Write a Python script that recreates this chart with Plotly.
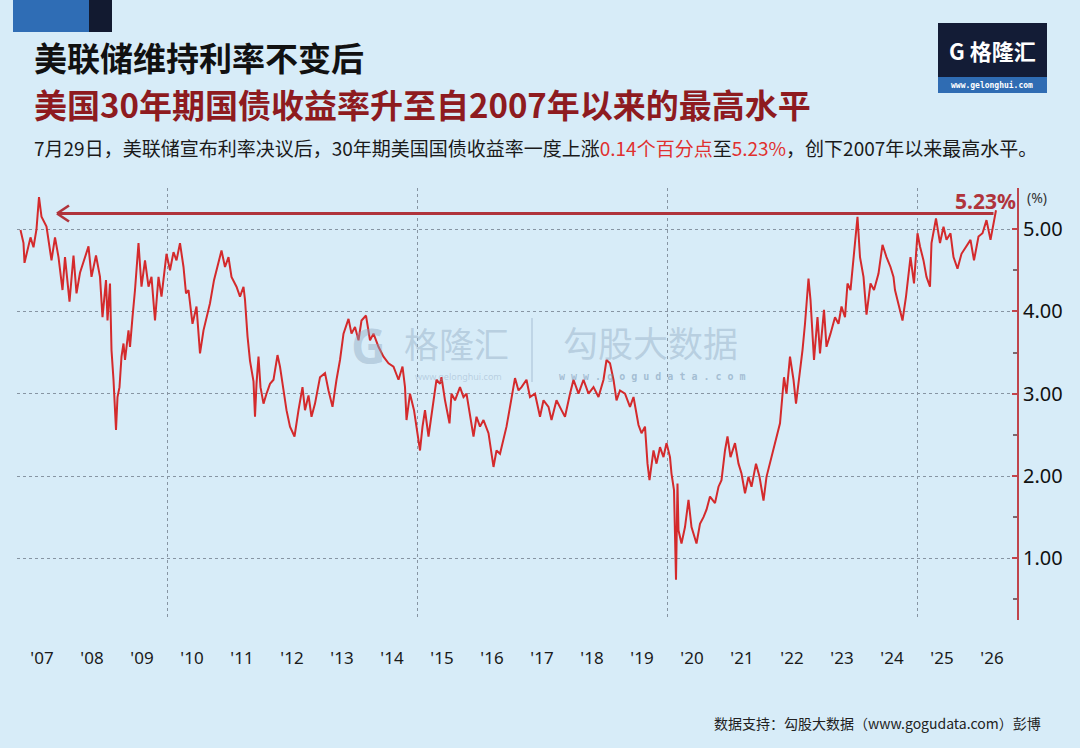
import plotly.graph_objects as go

# ---- data ----
years = [
    2007.07, 2007.13, 2007.15, 2007.23, 2007.27, 2007.33, 2007.39, 2007.44, 2007.49, 2007.59,
    2007.69, 2007.76, 2007.83, 2007.91, 2007.96, 2008.05, 2008.13, 2008.19, 2008.26, 2008.43,
    2008.49, 2008.58, 2008.66, 2008.71, 2008.78, 2008.81, 2008.86, 2008.89, 2008.93, 2008.98,
    2009.01, 2009.05, 2009.09, 2009.13, 2009.16, 2009.23, 2009.26, 2009.31, 2009.36, 2009.43,
    2009.49, 2009.56, 2009.63, 2009.69, 2009.76, 2009.83, 2009.89, 2009.99, 2010.06, 2010.13,
    2010.19, 2010.26, 2010.33, 2010.38, 2010.43, 2010.51, 2010.59, 2010.66, 2010.73, 2010.86,
    2010.94, 2011.09, 2011.16, 2011.23, 2011.29, 2011.39, 2011.46, 2011.53, 2011.56, 2011.61,
    2011.66, 2011.73, 2011.76, 2011.79, 2011.83, 2011.87, 2011.93, 2011.99, 2012.06, 2012.13,
    2012.21, 2012.26, 2012.33, 2012.39, 2012.46, 2012.55, 2012.63, 2012.71, 2012.76, 2012.83,
    2012.89, 2012.96, 2013.06, 2013.16, 2013.23, 2013.31, 2013.39, 2013.46, 2013.53, 2013.63,
    2013.69, 2013.76, 2013.83, 2013.89, 2013.98, 2014.06, 2014.13, 2014.23, 2014.33, 2014.43,
    2014.53, 2014.63, 2014.71, 2014.76, 2014.79, 2014.86, 2014.94, 2015.06, 2015.11, 2015.16,
    2015.23, 2015.31, 2015.39, 2015.46, 2015.49, 2015.56, 2015.65, 2015.69, 2015.76, 2015.86,
    2015.93, 2015.99, 2016.09, 2016.13, 2016.19, 2016.26, 2016.33, 2016.43, 2016.53, 2016.59,
    2016.66, 2016.73, 2016.79, 2016.86, 2016.93, 2016.96, 2017.03, 2017.09, 2017.19, 2017.26,
    2017.36, 2017.46, 2017.53, 2017.63, 2017.69, 2017.79, 2017.89, 2017.96, 2018.06, 2018.13,
    2018.23, 2018.33, 2018.43, 2018.53, 2018.63, 2018.73, 2018.79, 2018.86, 2018.93, 2018.99,
    2019.06, 2019.16, 2019.26, 2019.33, 2019.43, 2019.49, 2019.56, 2019.61, 2019.65, 2019.73,
    2019.79, 2019.86, 2019.93, 2019.99, 2020.06, 2020.09, 2020.14, 2020.18, 2020.21, 2020.23,
    2020.29, 2020.36, 2020.43, 2020.49, 2020.59, 2020.66, 2020.73, 2020.79, 2020.86, 2020.96,
    2021.03, 2021.09, 2021.16, 2021.21, 2021.27, 2021.36, 2021.43, 2021.49, 2021.56, 2021.63,
    2021.69, 2021.78, 2021.85, 2021.93, 2021.99, 2022.09, 2022.19, 2022.26, 2022.34, 2022.39,
    2022.46, 2022.53, 2022.58, 2022.65, 2022.71, 2022.76, 2022.83, 2022.87, 2022.94, 2023.01,
    2023.06, 2023.14, 2023.19, 2023.27, 2023.36, 2023.43, 2023.49, 2023.56, 2023.61, 2023.67,
    2023.73, 2023.81, 2023.86, 2023.93, 2023.99, 2024.07, 2024.14, 2024.23, 2024.31, 2024.39,
    2024.47, 2024.53, 2024.56, 2024.63, 2024.71, 2024.78, 2024.83, 2024.87, 2024.94, 2025.01,
    2025.06, 2025.13, 2025.19, 2025.26, 2025.29, 2025.38, 2025.46, 2025.53, 2025.59, 2025.67,
    2025.73, 2025.81, 2025.89, 2025.98, 2026.07, 2026.14, 2026.23, 2026.31, 2026.39, 2026.47,
    2026.53, 2026.58,
]
yields = [
    4.99, 4.83, 4.59, 4.78, 4.90, 4.78, 5.00, 5.39, 5.15, 5.03,
    4.62, 4.90, 4.66, 4.26, 4.66, 4.12, 4.68, 4.22, 4.47, 4.79,
    4.42, 4.68, 4.42, 3.93, 4.38, 3.89, 4.34, 3.53, 3.17, 2.56,
    2.96, 3.08, 3.45, 3.61, 3.41, 3.77, 3.57, 3.93, 4.26, 4.83,
    4.30, 4.62, 4.30, 4.42, 3.89, 4.42, 4.18, 4.70, 4.50, 4.72,
    4.62, 4.83, 4.54, 4.22, 4.26, 3.85, 4.06, 3.49, 3.77, 4.10,
    4.38, 4.74, 4.54, 4.66, 4.42, 4.30, 4.18, 4.30, 4.14, 3.70,
    3.40, 3.15, 2.72, 3.12, 3.45, 3.08, 2.88, 3.00, 3.12, 3.17,
    3.47, 3.33, 3.04, 2.80, 2.60, 2.48, 2.80, 3.08, 2.80, 2.98,
    2.72, 2.88, 3.20, 3.25, 3.04, 2.84, 3.17, 3.41, 3.73, 3.91,
    3.73, 3.81, 3.65, 3.89, 3.95, 3.65, 3.73, 3.57, 3.45, 3.37,
    3.33, 3.17, 3.33, 3.08, 2.68, 3.00, 2.80, 2.31, 2.60, 2.80,
    2.48, 2.80, 3.17, 3.12, 3.20, 2.92, 2.64, 3.00, 2.92, 3.08,
    2.96, 3.00, 2.60, 2.48, 2.72, 2.60, 2.68, 2.52, 2.11, 2.31,
    2.27, 2.44, 2.60, 2.84, 3.12, 3.19, 3.04, 3.08, 3.17, 2.96,
    3.00, 2.72, 2.92, 2.84, 2.68, 2.92, 2.80, 2.72, 3.00, 3.17,
    3.00, 3.17, 3.00, 3.08, 2.96, 3.17, 3.41, 3.37, 3.17, 2.92,
    3.04, 3.00, 2.84, 2.96, 2.62, 2.52, 2.60, 2.15, 1.95, 2.31,
    2.15, 2.35, 2.23, 2.40, 2.23, 2.03, 1.83, 0.74, 1.91, 1.34,
    1.18, 1.38, 1.71, 1.38, 1.18, 1.42, 1.50, 1.59, 1.75, 1.67,
    1.87, 1.95, 2.31, 2.48, 2.23, 2.40, 2.15, 2.03, 1.79, 1.99,
    1.87, 2.15, 1.99, 1.70, 1.99, 2.23, 2.48, 2.64, 3.20, 3.00,
    3.45, 3.17, 2.88, 3.20, 3.53, 3.85, 4.40, 4.14, 3.41, 3.93,
    3.49, 4.02, 3.57, 3.73, 3.93, 3.85, 4.06, 3.93, 4.34, 4.26,
    4.66, 5.15, 4.66, 4.42, 3.96, 4.34, 4.26, 4.46, 4.81, 4.66,
    4.54, 4.42, 4.26, 4.10, 3.89, 4.18, 4.50, 4.66, 4.34, 4.95,
    4.79, 4.62, 4.42, 4.30, 4.83, 5.13, 4.83, 5.03, 4.87, 4.95,
    4.66, 4.52, 4.70, 4.79, 4.87, 4.62, 4.91, 4.95, 5.11, 4.87,
    5.07, 5.23,
]
year_tick_pos = [2007.5 + i for i in range(20)]
year_tick_text = ["'%02d" % (7 + i) for i in range(20)]
grid_years = [2010, 2015, 2020, 2025]
y_ticks = [1, 2, 3, 4, 5]
latest_label = "5.23%"
arrow_start_year = 2007.8

# ---- layout geometry ----
W, H = 1080, 748
L, R, T, B = 17, 63, 188, 128
PW, PH = W - L - R, H - T - B
BG = "#d7ecf8"
ARROW_C = "#b0343c"
WM = "rgba(140,165,190,0.42)"


def px(x):
    return (x - L) / PW


def py(y):
    return (H - B - y) / PH


fig = go.Figure()
fig.add_trace(go.Scatter(
    x=years, y=yields, mode="lines",
    line=dict(color="#d42a2c", width=2.0),
    hoverinfo="skip", showlegend=False,
))

fig.update_xaxes(
    range=[2007.0, 2027.0],
    tickmode="array", tickvals=year_tick_pos, ticktext=year_tick_text,
    showgrid=False, zeroline=False, showline=False,
    ticks="outside", ticklen=23, tickcolor="rgba(0,0,0,0)",
    tickfont=dict(family="Noto Sans", size=17, color="#1a1a1a"),
    minor=dict(tickvals=grid_years, showgrid=True, gridcolor="#8795a3",
               griddash="dot", gridwidth=1, ticks=""),
)
fig.update_yaxes(
    side="right", range=[0.25, 5.5],
    tickmode="array", tickvals=y_ticks, tickformat=".2f",
    showgrid=True, gridcolor="#8795a3", griddash="dot", gridwidth=1,
    zeroline=False, showline=True, linecolor="#c0454c", linewidth=2,
    ticks="inside", ticklen=5, tickcolor="#c0454c", tickwidth=2,
    minor=dict(dtick=0.5, tick0=0.5, ticks="inside", ticklen=4,
               tickcolor="#7a6a70", showgrid=False),
    tickfont=dict(family="Noto Sans", size=20, color="#111111"),
)

level = yields[-1] - 0.04
shapes = [
    # top-left decorative blocks
    dict(type="rect", xref="paper", yref="paper", x0=px(13), x1=px(89), y0=py(32), y1=py(0),
         fillcolor="#2f6db5", line=dict(width=0), layer="above"),
    dict(type="rect", xref="paper", yref="paper", x0=px(89), x1=px(112), y0=py(32), y1=py(0),
         fillcolor="#121a30", line=dict(width=0), layer="above"),
    # logo box
    dict(type="rect", xref="paper", yref="paper", x0=px(938), x1=px(1047), y0=py(77), y1=py(23),
         fillcolor="#131c36", line=dict(width=0), layer="above"),
    dict(type="rect", xref="paper", yref="paper", x0=px(938), x1=px(1047), y0=py(93), y1=py(77),
         fillcolor="#2f6cb3", line=dict(width=0), layer="above"),
    # watermark divider
    dict(type="line", xref="paper", yref="paper", x0=px(532), x1=px(532), y0=py(382), y1=py(318),
         line=dict(color=WM, width=1.5), layer="below"),
    # arrow shaft at the latest level
    dict(type="line", xref="x", yref="y", x0=arrow_start_year, x1=years[-1] - 0.05,
         y0=level, y1=level, line=dict(color=ARROW_C, width=3), layer="above"),
    # open arrowhead (chevron), sized in pixels
    dict(type="line", xref="x", yref="y", xsizemode="pixel", ysizemode="pixel",
         xanchor=arrow_start_year, yanchor=level, x0=0, x1=12, y0=0, y1=8,
         line=dict(color=ARROW_C, width=2.6), layer="above"),
    dict(type="line", xref="x", yref="y", xsizemode="pixel", ysizemode="pixel",
         xanchor=arrow_start_year, yanchor=level, x0=0, x1=12, y0=0, y1=-8,
         line=dict(color=ARROW_C, width=2.6), layer="above"),
]

anns = [
    dict(text="<b>美联储维持利率不变后</b>", x=px(33), y=py(57), xanchor="left", yanchor="middle",
         font=dict(family="Noto Sans CJK SC", size=33, color="#111111")),
    dict(text="<b>美国30年期国债收益率升至自2007年以来的最高水平</b>", x=px(33), y=py(104),
         xanchor="left", yanchor="middle",
         font=dict(family="Noto Sans CJK SC", size=33, color="#8e1b1f")),
    dict(text=("7月29日，美联储宣布利率决议后，30年期美国国债收益率一度上涨"
               "<span style='color:#e0302f'>0.14个百分点</span>至"
               "<span style='color:#e0302f'>5.23%</span>，创下2007年以来最高水平。"),
         x=px(33), y=py(147), xanchor="left", yanchor="middle",
         font=dict(family="Noto Sans CJK SC", size=19, color="#1a1a1a")),
    # logo text
    dict(text="<b>G 格隆汇</b>", x=px(992), y=py(50), xanchor="center", yanchor="middle",
         font=dict(family="Noto Sans CJK SC", size=22, color="#ffffff")),
    dict(text="<b>www.gelonghui.com</b>", x=px(992), y=py(85), xanchor="center", yanchor="middle",
         font=dict(family="DejaVu Sans Mono", size=8, color="#ffffff")),
    # watermark
    dict(text="<b>G</b>", x=px(368), y=py(345), xanchor="center", yanchor="middle",
         font=dict(family="Noto Sans", size=48, color=WM)),
    dict(text="格隆汇", x=px(456), y=py(342), xanchor="center", yanchor="middle",
         font=dict(family="Noto Sans CJK SC", size=35, color=WM)),
    dict(text="www.gelonghui.com", x=px(458), y=py(376), xanchor="center", yanchor="middle",
         font=dict(family="Noto Sans", size=9, color=WM)),
    dict(text="勾股大数据", x=px(650), y=py(341), xanchor="center", yanchor="middle",
         font=dict(family="Noto Sans CJK SC", size=35, color=WM)),
    dict(text="<b>w w w . g o g u d a t a . c o m</b>", x=px(652), y=py(376), xanchor="center",
         yanchor="middle",
         font=dict(family="DejaVu Sans Mono", size=10, color="rgba(120,150,180,0.55)")),
    # axis unit
    dict(text="(%)", x=px(1026), y=py(197), xanchor="left", yanchor="middle",
         font=dict(family="Noto Sans", size=14, color="#333333")),
    # latest value label
    dict(text="<b>" + latest_label + "</b>", x=px(1017), y=py(201), xanchor="right",
         yanchor="middle",
         font=dict(family="Noto Sans", size=21, color=ARROW_C)),
    # source
    dict(text="数据支持：勾股大数据（www.gogudata.com）彭博", x=px(1042), y=py(723),
         xanchor="right", yanchor="middle",
         font=dict(family="Noto Sans CJK SC", size=14, color="#222222")),
]
for a in anns:
    a.update(xref="paper", yref="paper", showarrow=False, borderpad=0)

fig.update_layout(
    width=W, height=H,
    margin=dict(l=L, r=R, t=T, b=B),
    paper_bgcolor=BG, plot_bgcolor=BG,
    shapes=shapes, annotations=anns,
    showlegend=False,
)

fig.write_html(
    "out.html",
    config={"displayModeBar": False},
    post_script="document.body.style.margin='0px';document.body.style.background='%s';" % BG,
)
